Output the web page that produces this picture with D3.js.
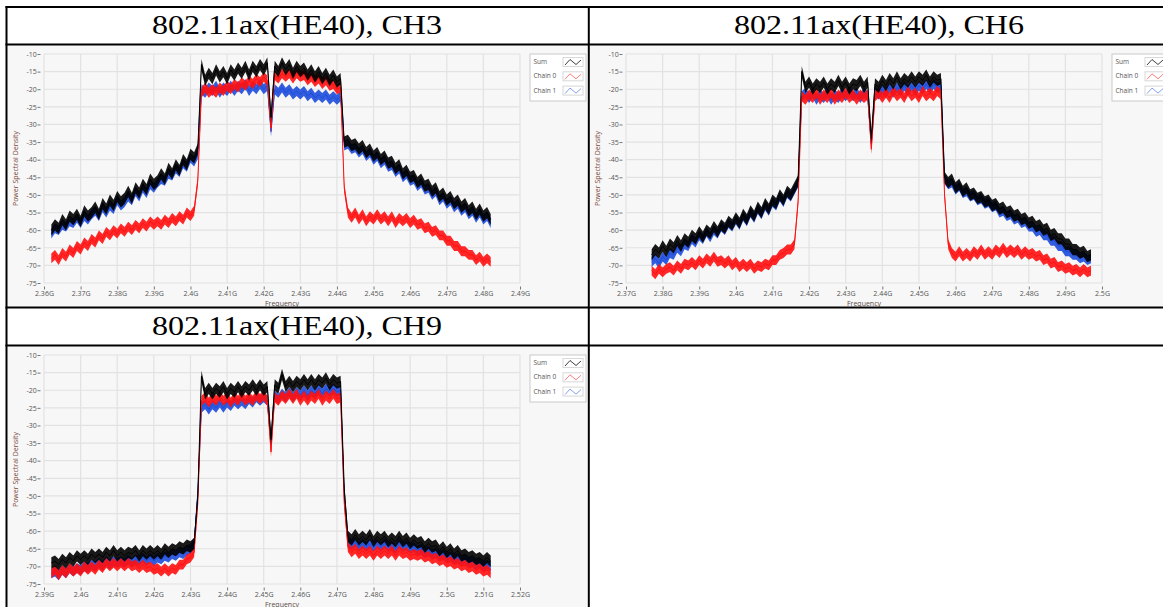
<!DOCTYPE html>
<html>
<head>
<meta charset="utf-8">
<script src="https://cdn.jsdelivr.net/npm/d3@7"></script>
<style>
  body { margin: 0; background: #fff; }
</style>
</head>
<body>
<svg id="page"></svg>
<script>
// panel titles and axes
const panelTitles = ['802.11ax(HE40), CH3', '802.11ax(HE40), CH6', '802.11ax(HE40), CH9'];
const xDomains = [[2.36, 2.49], [2.37, 2.50], [2.39, 2.52]];
const yTicks = [-10, -15, -20, -25, -30, -35, -40, -45, -50, -55, -60, -65, -70, -75];
const seriesNames = ['Sum', 'Chain 0', 'Chain 1'];
const seriesColors = ['#000000', '#ff1010', '#1c4bdc'];

// first sample of each trace, in MHz (one sample per MHz)
const startMHz = [2362, 2377, 2392];

// width of the noise band of each trace (dB), Sum / Chain 0 / Chain 1
const traceSpreadDb = [[3.2, 2.8, 2.8], [3.2, 2.8, 2.8], [3.2, 2.8, 2.8]];

// CH3
const sumCH3 = [
  -60,-58.5,-59.5,-57,-58.5,-56,-57,-55.5,-57.5,-54.5,-56,-55,-53.5,-55.5,-52.5,-54,-51.5,-53,-50.5,-52,
  -51,-49,-51,-48,-49.5,-47,-48.5,-45.5,-47,-46,-44,-45.5,-42.5,-44,-41.5,-43,-40,-41.5,-38.5,-39.5,-37,
  -13,-17.5,-15.5,-17,-14.5,-16.5,-15,-17,-14.5,-16,-14,-15.5,-13.5,-16,-13.5,-15,-13,-14.5,-12.5,-28,
  -13.5,-15,-12.5,-14.5,-13,-15.5,-13.5,-15,-14,-16,-14.5,-16.5,-15,-17,-15.5,-17.5,-16,-18,-17,
  -35,-34.5,-36,-35.5,-37,-36,-38,-37,-39,-38,-40,-39,-41,-40.5,-42.5,-41.5,-44,-43,-45,-44.5,
  -46.5,-45.5,-47.5,-47,-49,-48,-50.5,-49.5,-51.5,-50.5,-52.5,-51.5,-53.5,-52.5,-54.5,-53.5,-55.5,-54,-56,-55,-57
];
const chain0CH3 = [
  -68,-67,-68.5,-66.5,-67.5,-65.5,-66.5,-64.5,-65.5,-63.5,-64.5,-62.5,-63.5,-61.5,-62.5,-60.5,-61.5,-60,-61,-59.5,
  -60.5,-59,-60,-58.5,-59.5,-58,-59,-57.5,-58.5,-57.5,-58.5,-57,-58,-56.5,-57.5,-56,-57,-55,-56,-54.5,-46,
  -21,-19.5,-21,-20,-21,-19.5,-20.5,-19,-20,-18.5,-19.5,-18,-19,-17.5,-18.5,-17,-18,-16.5,-17.5,-31,
  -16,-17,-15.5,-16.5,-15.5,-17,-15.5,-16.5,-16,-17.5,-16.5,-18,-17,-18.5,-17.5,-19,-18.5,-20,-19.5,
  -48,-55,-56.5,-55,-57,-55.5,-57.5,-56,-57,-55.5,-57,-56,-57.5,-56,-58,-56.5,-57.5,-56.5,-58,-57,
  -58.5,-58,-59.5,-59,-60.5,-60,-61.5,-61.5,-63,-63,-64.5,-64.5,-66,-66,-67,-67,-68.5,-67.5,-69,-68,-69
];
const chain1CH3 = [
  -61,-59.5,-60,-58.5,-59,-57.5,-58,-56.5,-58,-56,-57,-55.5,-54.5,-56,-53.5,-55,-53,-54,-51.5,-53,
  -52,-50.5,-51.5,-49,-50.5,-48,-49.5,-47,-48,-46.5,-45.5,-46,-44,-44.5,-42.5,-43.5,-41,-42,-39.5,-40.5,-38.5,
  -20,-21,-19.5,-20.5,-19,-21,-19.5,-20.5,-19,-20.5,-19,-20,-18.5,-20.5,-19,-20,-18.5,-20,-19,-32,
  -20,-21,-19.5,-21,-20,-21.5,-20.5,-21.5,-20.5,-22,-21,-22.5,-21.5,-22.5,-21.5,-23,-22,-23,-22,
  -36,-35.5,-37,-36.5,-38,-37,-39,-38,-40,-39,-41,-40,-42,-41.5,-43.5,-42.5,-45,-44,-46,-45.5,
  -47.5,-46.5,-48.5,-48,-50,-49,-51.5,-50.5,-52.5,-51.5,-53.5,-52.5,-54.5,-53.5,-55.5,-54.5,-56.5,-55,-57,-56,-58
];

// CH6
const sumCH6 = [
  -67,-65.5,-66.5,-64.5,-66,-64,-65,-63,-64.5,-62.5,-63.5,-61.5,-62.5,-60.5,-62,-60,-61,-59,-60.5,-58.5,
  -59.5,-57.5,-58.5,-56.5,-58,-55.5,-57,-54.5,-56,-53.5,-55,-52.5,-54,-51.5,-52.5,-50,-51.5,-49,-50,-48,-46,
  -15,-19.5,-18,-20,-18.5,-19.5,-18,-20,-18.5,-19.5,-17.5,-19.5,-18,-20,-18.5,-19,-17.5,-19.5,-18,-34,
  -18.5,-19.5,-17.5,-19,-17,-18.5,-16.5,-18.5,-17,-18,-16.5,-18,-16.5,-17.5,-16,-18,-16.5,-17.5,-17,
  -45,-46.5,-45.5,-48,-47,-49,-48,-50,-49.5,-51,-50.5,-52,-51.5,-53,-52.5,-54,-53.5,-55,-54.5,-56,
  -55.5,-57,-56.5,-58,-57.5,-59,-58.5,-60,-59.5,-61.5,-61,-62.5,-62.5,-64,-64,-65.5,-65.5,-66.5,-66,-67.5,-67
];
const chain0CH6 = [
  -71.5,-72.5,-71,-72,-71,-70.5,-71.5,-70,-71,-69.5,-70,-69,-70,-68.5,-69.5,-68,-69,-67.5,-69,-68.5,
  -69.5,-68.5,-70,-69,-70.5,-69.5,-70.5,-69.5,-71,-70,-70.5,-69.5,-70,-68.5,-68.5,-67,-66.5,-65.5,-65.5,-64,-52,
  -22,-23,-21.5,-22.5,-21,-23,-21.5,-22.5,-21,-23,-21.5,-22.5,-21,-22.5,-21.5,-23,-21.5,-22.5,-21.5,-37,
  -22,-21,-22.5,-21,-22.5,-20.5,-22,-21,-22.5,-20.5,-22,-21,-22.5,-20.5,-22,-21,-22,-20.5,-21.5,
  -50,-64,-66.5,-67.5,-66,-67.5,-66.5,-67.5,-66,-67,-65.5,-67,-66,-67,-65.5,-66.5,-65,-66.5,-65.5,-66.5,
  -65.5,-67,-66,-67,-66.5,-67.5,-67,-68.5,-68,-69.5,-69,-70.5,-70,-71,-70.5,-71.5,-71,-72,-71,-72,-71.5
];
const chain1CH6 = [
  -69,-68,-69.5,-67.5,-68.5,-66.5,-67,-65,-66,-64,-64.5,-62.5,-63.5,-61.5,-62.5,-60.5,-62,-60,-61,-59,
  -60,-58,-59,-57,-58.5,-56,-57.5,-55,-56.5,-54,-55.5,-53,-54.5,-52,-53,-50.5,-52,-49.5,-50.5,-48.5,-46.5,
  -22,-21,-22.5,-21,-23,-21.5,-22.5,-21,-23,-21.5,-22.5,-21,-22,-20.5,-22,-21,-22.5,-21,-22,-35.5,
  -20.5,-21.5,-20,-21,-19.5,-21,-19.5,-20.5,-19,-20.5,-19,-20.5,-19,-20,-18.5,-20,-18.5,-19.5,-19,
  -45.5,-47,-46.5,-48.5,-47.5,-49.5,-49,-50.5,-50,-51.5,-51,-52.5,-52,-53.5,-53,-55,-54.5,-56,-55.5,-57,
  -56.5,-58,-57.5,-59,-59,-60.5,-60,-61.5,-61.5,-63,-63,-64.5,-64.5,-66,-66,-67,-67,-68,-67.5,-68.5,-68
];

// CH9
const sumCH9 = [
  -69,-68.5,-69.5,-68,-69,-67.5,-68.5,-67,-68,-67,-68,-66.5,-67.5,-66.5,-67.5,-66,-67,-65.5,-67,-66,
  -67,-66,-66.5,-65.5,-67,-65.5,-66.5,-65.5,-66.5,-65.5,-66.5,-65,-66,-65,-65.5,-64.5,-65,-64,-64.5,-63.5,-50,
  -16,-21,-19.5,-21,-19.5,-20.5,-19,-21,-19.5,-20.5,-19,-20.5,-19,-20,-18.5,-20,-18.5,-20,-19,-34,
  -18.5,-19.5,-15.5,-19,-17.5,-19,-17.5,-18.5,-17,-18.5,-17,-18.5,-17,-18,-16.5,-18.5,-17,-18,-17.5,
  -48,-61.5,-62.5,-61,-62.5,-61.5,-62.5,-61,-63,-61.5,-62.5,-61.5,-63,-62,-63,-61.5,-63,-62,-63.5,-62.5,
  -63.5,-63,-64.5,-63.5,-64.5,-64,-65.5,-64.5,-66,-65,-66.5,-65.5,-67,-66.5,-67.5,-67,-68,-67.5,-68.5,-67.5,-68.5
];
const chain0CH9 = [
  -72,-71,-72.5,-71,-72,-70.5,-71.5,-70.5,-71.5,-70,-71,-70,-71,-69.5,-70.5,-69,-70,-69,-70,-69,
  -70,-69,-70,-69.5,-70.5,-69.5,-70.5,-70,-71,-70.5,-71.5,-70.5,-71.5,-70.5,-71,-69.5,-69.5,-68,-67.5,-66,-52,
  -23,-22,-23.5,-22,-23,-21.5,-23,-22,-23.5,-22,-23,-21.5,-23,-22,-23,-21.5,-22.5,-21.5,-23,-37.5,
  -22,-23,-21.5,-22.5,-21,-22.5,-21,-23,-21.5,-23,-21.5,-22.5,-21,-23,-21.5,-22.5,-21,-22.5,-22,
  -52,-64.5,-66,-65,-66.5,-65.5,-66.5,-65.5,-67,-65.5,-66.5,-65.5,-66.5,-65.5,-67,-65.5,-66.5,-66,-67,-66.5,
  -67,-66.5,-67.5,-67,-68,-67.5,-68.5,-68,-69,-68.5,-69.5,-69,-70,-69.5,-70.5,-70,-71,-70.5,-71.5,-71,-72
];
const chain1CH9 = [
  -72,-71.5,-72.5,-71,-72,-70.5,-71.5,-70.5,-71,-70,-70.5,-69.5,-70,-69,-70,-68.5,-69.5,-68.5,-69,-68.5,
  -69,-68,-69,-68,-68.5,-67.5,-68.5,-67.5,-68.5,-67.5,-68,-67,-67.5,-66.5,-67,-66,-66.5,-65.5,-65,-63.5,-49,
  -25,-24,-25.5,-24,-25,-23.5,-25,-23.5,-24.5,-23,-24,-23,-24,-22.5,-23.5,-22,-23,-22,-23,-35,
  -21.5,-22.5,-21,-22,-20.5,-22,-20.5,-21.5,-20,-21.5,-20,-21,-19.5,-21,-19.5,-20.5,-19.5,-20.5,-20,
  -50,-63,-64,-63,-64.5,-63.5,-64.5,-63.5,-64.5,-63.5,-64.5,-63.5,-64.5,-64,-65,-63.5,-64.5,-64,-65,-64.5,
  -65.5,-65,-66,-65.5,-66.5,-66,-67,-66.5,-67.5,-67,-68,-67.5,-68.5,-68,-69,-68.5,-69.5,-69,-70,-69.5,-70
];

const panelSeries = [
  [sumCH3, chain0CH3, chain1CH3],
  [sumCH6, chain0CH6, chain1CH6],
  [sumCH9, chain0CH9, chain1CH9]
];

// layout
const W = 1163, H = 607;
const chartPos = [{x: 8, y: 46}, {x: 590, y: 46}, {x: 8, y: 347}];
const titlePos = [{x: 297, y: 33.5}, {x: 879, y: 33.5}, {x: 297, y: 334.5}];
const chartW = 579, chartH = 260;
const plot = {left: 36, right: 512, top: 8, bottom: 237};

const svg = d3.select('#page')
    .attr('width', W)
    .attr('height', H)
    .style('display', 'block');

svg.append('rect')
    .attr('width', W)
    .attr('height', H)
    .attr('fill', '#fff');

// panel titles
svg.selectAll('text.title')
    .data(panelTitles)
    .enter()
    .append('text')
        .attr('class', 'title')
        .attr('x', (d, i) => titlePos[i].x)
        .attr('y', (d, i) => titlePos[i].y)
        .attr('text-anchor', 'middle')
        .attr('font-family', '"Liberation Serif", "Times New Roman", serif')
        .attr('font-size', 26.5)
        .attr('textLength', 290)
        .attr('lengthAdjust', 'spacingAndGlyphs')
        .attr('fill', '#000')
        .text(d => d);

const fmtG = d => `${+d.toFixed(2)}G`;

panelSeries.forEach((series, k) => {

    const g = svg.append('g')
        .attr('transform', `translate(${chartPos[k].x}, ${chartPos[k].y})`);

    g.append('rect')
        .attr('width', chartW)
        .attr('height', chartH)
        .attr('fill', '#f7f7f7');

    const x = d3.scaleLinear()
        .domain(xDomains[k])
        .range([plot.left, plot.right]);

    const y = d3.scaleLinear()
        .domain([-10, -75])
        .range([plot.top, plot.bottom]);

    const xTicks = d3.range(0, 14).map(i => +(xDomains[k][0] + i * 0.01).toFixed(2));

    // grid
    g.append('g').selectAll('line')
        .data(xTicks)
        .enter()
        .append('line')
            .attr('x1', d => x(d)).attr('x2', d => x(d))
            .attr('y1', plot.top).attr('y2', plot.bottom)
            .attr('stroke', '#e2e2e2')
            .attr('stroke-width', 1.2);

    g.append('g').selectAll('line')
        .data(yTicks)
        .enter()
        .append('line')
            .attr('x1', plot.left).attr('x2', plot.right)
            .attr('y1', d => y(d)).attr('y2', d => y(d))
            .attr('stroke', '#e2e2e2')
            .attr('stroke-width', 1.2);

    // axes
    const xAxis = d3.axisBottom(x)
        .tickValues(xTicks)
        .tickFormat(fmtG)
        .tickSize(3)
        .tickPadding(1.5);

    const yAxis = d3.axisLeft(y)
        .tickValues(yTicks)
        .tickFormat(d => d)
        .tickSize(3)
        .tickPadding(0.8);

    const xg = g.append('g')
        .attr('transform', `translate(0, ${plot.bottom + 3.5})`)
        .call(xAxis);
    const yg = g.append('g')
        .attr('transform', `translate(${plot.left - 3.5}, 0)`)
        .call(yAxis);

    [xg, yg].forEach(a => {
        a.select('.domain').remove();
        a.selectAll('line').attr('stroke', '#777');
        a.selectAll('text')
            .attr('fill', '#555')
            .attr('font-family', '"Open Sans", "Noto Sans", sans-serif')
            .attr('font-size', 7);
    });

    g.append('text')
        .attr('transform', `translate(10, ${(plot.top + plot.bottom) / 2}) rotate(-90)`)
        .attr('text-anchor', 'middle')
        .attr('font-family', '"Open Sans", "Noto Sans", sans-serif')
        .attr('font-size', 7)
        .attr('fill', '#7a4636')
        .text('Power Spectral Density');

    g.append('text')
        .attr('x', (plot.left + plot.right) / 2)
        .attr('y', 259.5)
        .attr('text-anchor', 'middle')
        .attr('font-family', '"Open Sans", "Noto Sans", sans-serif')
        .attr('font-size', 7)
        .attr('fill', '#5b4b46')
        .text('Frequency');

    // traces: Chain 1 below, Chain 0, Sum on top
    const fx = (d, i) => x((startMHz[k] + i) / 1000);

    const line = d3.line()
        .x(fx)
        .y(d => y(d));

    [2, 1, 0].forEach(s => {
        const half = traceSpreadDb[k][s] / 2;
        const band = d3.area()
            .x(fx)
            .y0(d => y(d - half))
            .y1(d => y(d + half));

        g.append('path')
            .attr('d', band(series[s]))
            .attr('fill', seriesColors[s])
            .attr('opacity', 0.9);

        g.append('path')
            .attr('d', line(series[s]))
            .attr('fill', 'none')
            .attr('stroke', seriesColors[s])
            .attr('stroke-width', 1)
            .attr('stroke-linejoin', 'round');
    });

    // legend
    const lg = g.append('g').attr('transform', 'translate(522, 8)');
    lg.append('rect')
        .attr('width', 56)
        .attr('height', 47)
        .attr('fill', '#fff')
        .attr('stroke', '#cacaca');

    const rows = lg.selectAll('g.row')
        .data(seriesNames)
        .enter()
        .append('g')
            .attr('class', 'row')
            .attr('transform', (d, i) => `translate(0, ${i * 14.3})`);

    rows.append('text')
        .attr('x', 3.5)
        .attr('y', 10)
        .attr('font-family', '"Open Sans", "Noto Sans", sans-serif')
        .attr('font-size', 6.5)
        .attr('fill', '#555')
        .text(d => d);

    rows.append('rect')
        .attr('x', 33)
        .attr('y', 3.5)
        .attr('width', 20)
        .attr('height', 9)
        .attr('fill', '#fff')
        .attr('stroke', '#d8d8d8');

    rows.append('polyline')
        .attr('points', '35,11 40,5.5 46,10.5 51,6')
        .attr('fill', 'none')
        .attr('stroke', (d, i) => seriesColors[i])
        .attr('stroke-width', 0.9)
        .attr('opacity', (d, i) => i === 0 ? 0.85 : 0.6);
});

// table rules
const rules = svg.append('g')
    .attr('stroke', '#000')
    .attr('stroke-width', 2);

[7, 44.5, 307.5, 345.5].forEach(yy => {
    rules.append('line')
        .attr('x1', 5.5).attr('x2', W)
        .attr('y1', yy).attr('y2', yy);
});
[6.5, 588.8].forEach(xx => {
    rules.append('line')
        .attr('x1', xx).attr('x2', xx)
        .attr('y1', 6).attr('y2', H);
});
</script>
</body>
</html>
